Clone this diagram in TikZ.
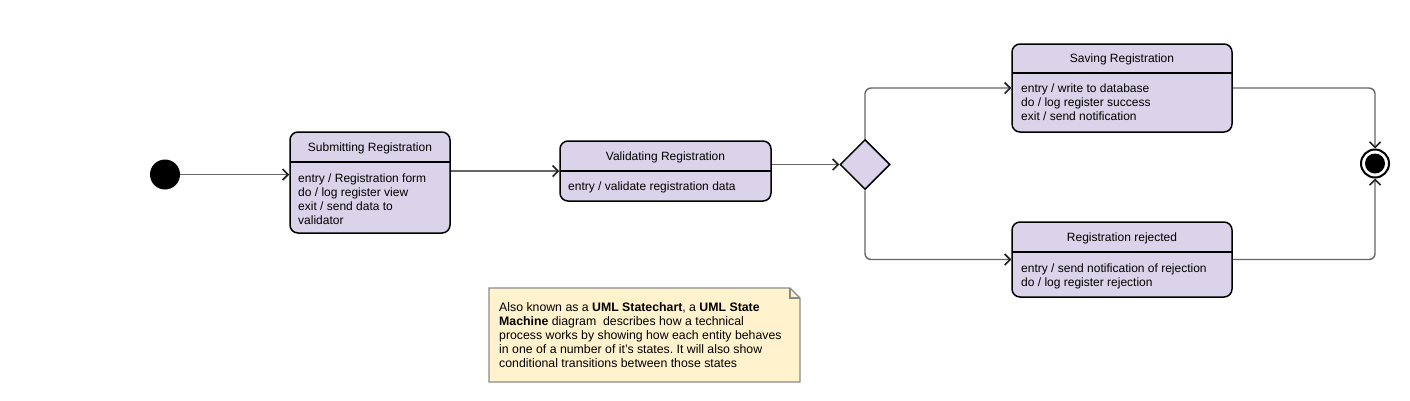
\documentclass[tikz,border=0pt]{standalone}
\usepackage{fontspec}
\setmainfont{Liberation Sans}
\usetikzlibrary{shapes.geometric,arrows.meta}
\frenchspacing
\definecolor{statefill}{HTML}{DAD3E9}
\definecolor{notefill}{HTML}{FFF2CC}
\definecolor{notedraw}{HTML}{8A8A8A}
\definecolor{conncol}{HTML}{666666}
\definecolor{tipcol}{HTML}{222222}
\tikzset{
  statebox/.style={draw=black, line width=1.5bp, rounded corners=8bp, fill=statefill, inner sep=0pt},
  divider/.style={draw=black, line width=1.5bp},
  ttl/.style={font=\fontsize{12bp}{14bp}\selectfont, inner sep=0pt, anchor=base},
  body/.style={font=\fontsize{12bp}{14bp}\selectfont, inner sep=0pt, anchor=north west, align=left},
  conn/.style={draw=conncol, line width=1.4bp, rounded corners=6bp,
    -{Straight Barb[length=5.5bp,width=11bp,line width=1.6bp,color=tipcol]}},
}
\begin{document}
\begin{tikzpicture}[x=1bp,y=-1bp]
\useasboundingbox (0,0) rectangle (1410,400);

% initial state
\node[circle, fill=black, minimum size=30bp, inner sep=0pt] (init) at (165,174.5) {};

% Submitting Registration
\node[statebox, minimum width=160bp, minimum height=101bp] (sub) at (370,182.5) {};
\draw[divider] (290,162) -- (450,162);
\node[ttl] (subT) at (370,151.3) {Submitting Registration};
\node[body] (subB) at (298,172.2) {\strut entry / Registration form\\do / log register view\\exit / send data to\\validator};

% Validating Registration
\node[statebox, minimum width=211bp, minimum height=60bp] (val) at (665.5,171) {};
\draw[divider] (560,171) -- (771,171);
\node[ttl] (valT) at (665.5,160.3) {Validating Registration};
\node[body] (valB) at (568,180.2) {\strut entry / validate registration data};

% decision
\node[diamond, aspect=1, draw=black, line width=1.5bp, fill=statefill, minimum width=50bp, minimum height=50bp, inner sep=0pt] (dec) at (865,164.5) {};

% Saving Registration
\node[statebox, minimum width=220bp, minimum height=88bp] (save) at (1122,88) {};
\draw[divider] (1012,73) -- (1232,73);
\node[ttl] (saveT) at (1122,62.3) {Saving Registration};
\node[body] (saveB) at (1021,82.2) {\strut entry / write to database\\do / log register success\\exit / send notification};

% Registration rejected
\node[statebox, minimum width=220bp, minimum height=75bp] (rej) at (1122,259.5) {};
\draw[divider] (1012,252) -- (1232,252);
\node[ttl] (rejT) at (1122,241.3) {Registration rejected};
\node[body] (rejB) at (1021,262.2) {\strut entry / send notification of rejection\\do / log register rejection};

% final state
\node[circle, draw=black, line width=2bp, fill=white, minimum size=28bp, inner sep=0pt] (fin) at (1375,163.5) {};
\fill[black] (fin.center) circle (10bp);

% connectors
\draw[conn] (init.east) -- (init.east -| sub.west);
\draw[conn] (val.west -| sub.east) -- (val.west);
\draw[conn] (dec.west -| val.east) -- (dec.west);
\draw[conn] (dec.north) |- (save.west);
\draw[conn] (dec.south) |- (rej.west);
\draw[conn] (save.east) -| (fin.north);
\draw[conn] (rej.east) -| (fin.south);

% note
\coordinate (nA) at (489,288);
\coordinate (nB) at (790,288);
\coordinate (nC) at (800,298);
\coordinate (nD) at (800,382);
\coordinate (nE) at (489,382);
\filldraw[fill=notefill, draw=notedraw, line width=1.2bp] (nA) -- (nB) -- (nC) -- (nD) -- (nE) -- cycle;
\draw[draw=notedraw, line width=1.2bp] (nB) -- (790,298) -- (nC);
\node[body, font=\fontsize{12.3bp}{14bp}\selectfont] (note) at (499,301.2) {\strut Also known as a \textbf{UML Statechart}, a \textbf{UML State}\\\textbf{Machine} diagram~ describes how a technical\\process works by showing how each entity behaves\\in one of a number of it's states. It will also show\\conditional transitions between those states};
\end{tikzpicture}
\end{document}
